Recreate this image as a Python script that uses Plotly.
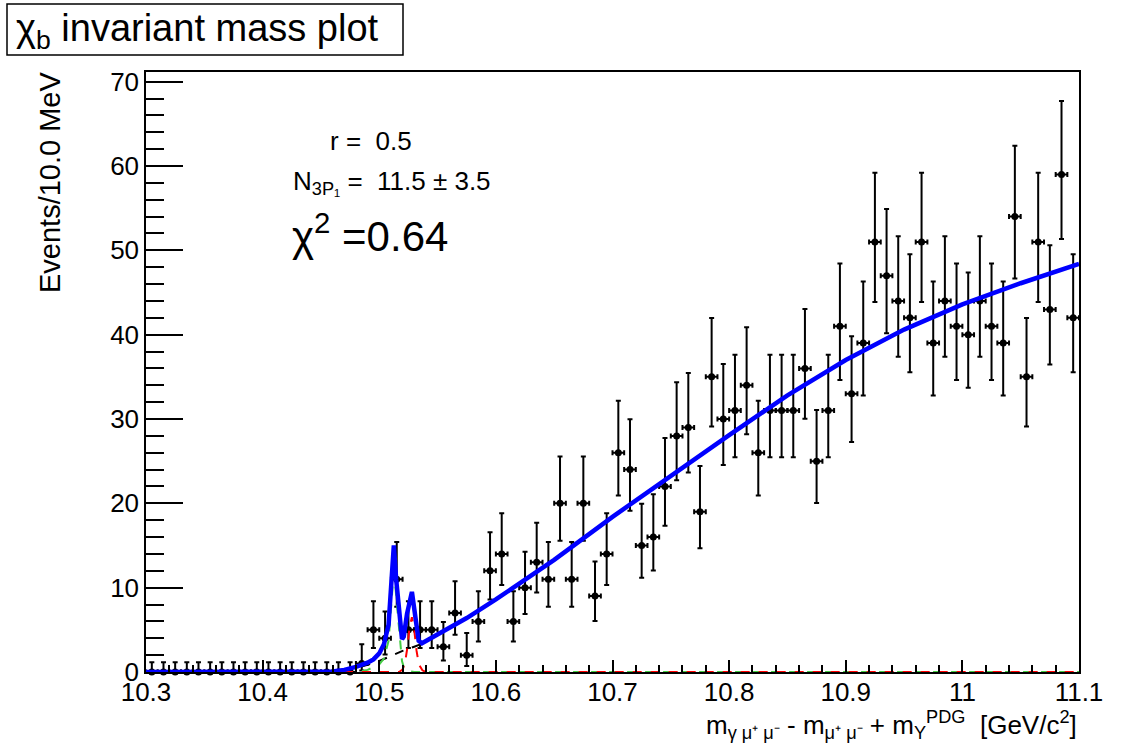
import math
import plotly.graph_objects as go

# ---------------- data ----------------
bin_lo = 10.30
bin_width = 0.01
counts = [0, 0, 0, 0, 0, 0, 0, 0, 0, 0,
          0, 0, 0, 0, 0, 0, 0, 0, 1, 5,
          4, 11, 5, 5, 5, 3, 7, 2, 6, 12,
          14, 6, 10, 13, 11, 20, 11, 20, 9, 14,
          26, 24, 15, 16, 22, 28, 29, 19, 35, 30,
          31, 34, 26, 31, 31, 31, 36, 25, 31, 41,
          33, 39, 51, 47, 44, 42, 51, 39, 44, 41,
          40, 44, 41, 39, 54, 35, 51, 43, 59, 42]

# total fit curve (blue)
fit_x = [10.30, 10.44, 10.46, 10.47, 10.48, 10.49, 10.495, 10.50, 10.504, 10.508,
         10.511, 10.5125, 10.5145, 10.517, 10.5195, 10.521, 10.5238, 10.528, 10.531,
         10.5338, 10.5366, 10.55, 10.575, 10.60, 10.625, 10.65, 10.70, 10.75, 10.80,
         10.85, 10.90, 10.95, 11.00, 11.05, 11.10]
fit_y = [0.0, 0.0, 0.05, 0.25, 0.6, 1.1, 1.5, 2.2, 3.3, 5.6,
         11.0, 15.0, 11.0, 6.8, 3.9, 4.2, 6.9, 9.5, 6.9,
         3.7, 3.4, 4.4, 6.4, 8.6, 11.0, 13.3, 18.4, 23.3, 28.1,
         32.8, 37.0, 40.6, 43.6, 46.1, 48.4]

# background component (black dashed)
bkg_x = [10.30, 10.46, 10.47, 10.48, 10.49, 10.50, 10.51, 10.52, 10.53, 10.5366,
         10.55, 10.575, 10.60, 10.625, 10.65, 10.70, 10.75, 10.80, 10.85, 10.90,
         10.95, 11.00, 11.05, 11.10]
bkg_y = [0.0, 0.0, 0.15, 0.45, 0.85, 1.3, 1.9, 2.5, 3.0, 3.35,
         4.4, 6.4, 8.6, 11.0, 13.3, 18.4, 23.3, 28.1, 32.8, 37.0,
         40.6, 43.6, 46.1, 48.4]

# first peak component (green dashed)
pk1_x = [10.30, 10.48, 10.49, 10.50, 10.504, 10.508, 10.511, 10.5125, 10.5145,
         10.517, 10.5195, 10.521, 10.524, 10.53, 11.10]
pk1_y = [0.0, 0.0, 0.25, 0.9, 1.6, 3.7, 9.2, 12.8, 9.0,
         4.6, 1.3, 0.6, 0.15, 0.0, 0.0]

# second peak component (red dashed)
pk2_x = [10.30, 10.517, 10.52, 10.522, 10.524, 10.526, 10.528, 10.530, 10.532,
         10.534, 10.537, 10.54, 11.10]
pk2_y = [0.0, 0.0, 0.3, 1.0, 2.8, 5.3, 6.5, 5.0, 2.5,
         0.9, 0.2, 0.0, 0.0]

x_tick_vals = [10.3, 10.4, 10.5, 10.6, 10.7, 10.8, 10.9, 11.0, 11.1]
x_tick_text = ["10.3", "10.4", "10.5", "10.6", "10.7", "10.8", "10.9", "11", "11.1"]
y_tick_vals = [0, 10, 20, 30, 40, 50, 60, 70]
y_tick_text = ["0", "10", "20", "30", "40", "50", "60", "70"]

# ---------------- Poisson (central 68%) error bars, as RooFit draws them ----------------
ALPHA = 0.5 * (1 - math.erf(1 / math.sqrt(2)))


def pois_cdf(n, lam):
    term = math.exp(-lam)
    s = term
    for k in range(1, n + 1):
        term *= lam / k
        s += term
    return s


def bisect(f, lo, hi):
    for _ in range(200):
        mid = 0.5 * (lo + hi)
        if f(mid) > 0:
            lo = mid
        else:
            hi = mid
    return 0.5 * (lo + hi)


err_lo, err_up = [], []
for n in counts:
    if n == 0:
        err_lo.append(0.0)
        err_up.append(-math.log(1 - math.erf(1 / math.sqrt(2))))
    else:
        up = bisect(lambda l: pois_cdf(n, l) - ALPHA, n, n + 10 * math.sqrt(n) + 10)
        lo = bisect(lambda l: ALPHA - (1 - pois_cdf(n - 1, l)), 0.0, n)
        err_lo.append(n - lo)
        err_up.append(up - n)

centers = [bin_lo + bin_width * (i + 0.5) for i in range(len(counts))]

# ---------------- layout geometry (pixels) ----------------
W, H = 1128, 749
L, R, T, B = 146, 49, 72, 77
PW, PH = W - L - R, H - T - B


def px(xp):
    return (xp - L) / PW


def py(yp):
    return (H - B - yp) / PH


FONT = "Liberation Sans, Arial, Helvetica, sans-serif"

fig = go.Figure()

fig.add_trace(go.Scatter(
    x=centers, y=counts, mode="markers",
    marker=dict(color="black", size=7, symbol="circle"),
    error_y=dict(type="data", symmetric=False, array=err_up, arrayminus=err_lo,
                 color="black", thickness=2, width=2.5),
    error_x=dict(type="constant", value=bin_width / 2, color="black",
                 thickness=2, width=2.5),
    cliponaxis=False, showlegend=False))

fig.add_trace(go.Scatter(x=bkg_x, y=bkg_y, mode="lines",
                         line=dict(color="black", width=2, dash="dash"),
                         showlegend=False))
fig.add_trace(go.Scatter(x=pk1_x, y=pk1_y, mode="lines",
                         line=dict(color="#44cc44", width=2, dash="dash"),
                         showlegend=False))
fig.add_trace(go.Scatter(x=pk2_x, y=pk2_y, mode="lines",
                         line=dict(color="#ff0000", width=2, dash="dash"),
                         showlegend=False))
fig.add_trace(go.Scatter(x=fit_x, y=fit_y, mode="lines",
                         line=dict(color="#0000ff", width=4.5),
                         showlegend=False))

fig.update_layout(
    width=W, height=H,
    margin=dict(l=L, r=R, t=T, b=B, pad=0),
    paper_bgcolor="white", plot_bgcolor="white",
    font=dict(family=FONT, color="black", size=26),
    showlegend=False,
    xaxis=dict(range=[10.3, 11.1], tickvals=x_tick_vals, ticktext=x_tick_text,
               ticks="inside", ticklen=12, tickwidth=1.5, tickcolor="black",
               showline=True, linecolor="black", linewidth=1.5, mirror=True,
               showgrid=False, zeroline=False, ticklabelstandoff=-4,
               tickfont=dict(size=26, family=FONT),
               minor=dict(dtick=0.02, ticks="inside", ticklen=7, tickwidth=1.5,
                          tickcolor="black", showgrid=False)),
    yaxis=dict(range=[0, 71.15], tickvals=y_tick_vals, ticktext=y_tick_text,
               ticks="inside", ticklen=37, tickwidth=1.5, tickcolor="black",
               showline=True, linecolor="black", linewidth=1.5, mirror=True,
               showgrid=False, zeroline=False,
               tickfont=dict(size=26, family=FONT),
               minor=dict(dtick=2, ticks="inside", ticklen=18, tickwidth=1.5,
                          tickcolor="black", showgrid=False)),
)

# title box
fig.add_shape(type="rect", xref="paper", yref="paper",
              x0=px(7), x1=px(403), y0=py(55), y1=py(4),
              line=dict(color="black", width=1.5), fillcolor="white", layer="above")

annotations = [
    dict(text="χ<sub>b</sub> invariant mass plot", x=px(14), y=py(31),
         xanchor="left", yanchor="middle", font=dict(size=38)),
    dict(text="Events/10.0 MeV", x=px(50), y=py(183), textangle=-90,
         xanchor="center", yanchor="middle", font=dict(size=29)),
    dict(text="m<sub>γ μ⁺ μ⁻</sub> - m<sub>μ⁺ μ⁻</sub> + m<sub>Υ</sub><sup>PDG</sup>  [GeV/c<sup>2</sup>]",
         x=1.0, y=py(725), xanchor="right", yanchor="middle", font=dict(size=26)),
    dict(text="r =  0.5", x=px(328), y=py(141), xanchor="left", yanchor="middle",
         font=dict(size=26)),
    dict(text="N<sub>3P₁</sub> =  11.5 ± 3.5", x=px(291), y=py(182), xanchor="left",
         yanchor="middle", font=dict(size=26)),
    dict(text="χ<sup>2</sup> =0.64", x=px(290), y=py(233), xanchor="left",
         yanchor="middle", font=dict(size=42)),
]
for a in annotations:
    a.update(xref="paper", yref="paper", showarrow=False)
    fig.add_annotation(**a)

fig.write_html("out.html")
